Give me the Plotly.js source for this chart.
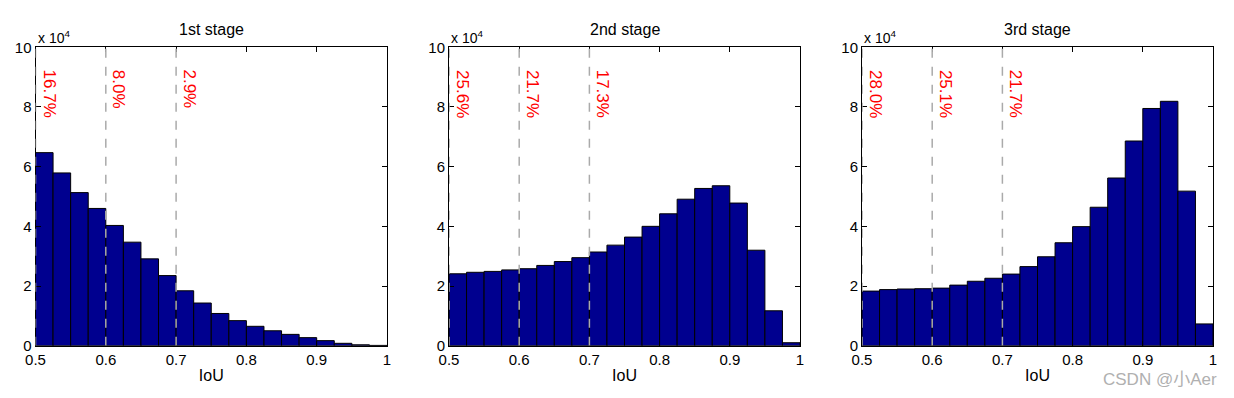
<!DOCTYPE html>
<html>
<head>
<meta charset="utf-8">
<script src="https://cdn.plot.ly/plotly-3.0.1.min.js"></script>
<style>html,body{margin:0;padding:0;background:#fff;}#chart{width:1234px;height:398px;}</style>
</head>
<body>
<div id="chart"></div>
<script>
// Bin centers (IoU), bin width 0.025
const binCenters = [0.5125,0.5375,0.5625,0.5875,0.6125,0.6375,0.6625,0.6875,0.7125,0.7375,
                    0.7625,0.7875,0.8125,0.8375,0.8625,0.8875,0.9125,0.9375,0.9625,0.9875];
const binWidth = 0.025;
// Counts in units of 1e4
const stage1 = [6.47,5.79,5.13,4.60,4.03,3.47,2.91,2.35,1.84,1.43,1.08,0.84,0.65,0.50,0.38,0.27,0.17,0.08,0.03,0.01];
const stage2 = [2.41,2.46,2.49,2.54,2.58,2.69,2.82,2.95,3.14,3.37,3.64,4.00,4.42,4.91,5.27,5.36,4.78,3.20,1.17,0.10];
const stage3 = [1.83,1.88,1.90,1.91,1.93,2.03,2.16,2.26,2.40,2.65,2.98,3.45,3.99,4.64,5.62,6.86,7.95,8.19,5.18,0.73];
const stageTitles = ["1st stage","2nd stage","3rd stage"];
const thresholds = [0.5,0.6,0.7];
const pctLabels = [["16.7%","8.0%","2.9%"],["25.6%","21.7%","17.3%"],["28.0%","25.1%","21.7%"]];
const xTicks = [0.5,0.6,0.7,0.8,0.9,1];
const xTickText = ["0.5","0.6","0.7","0.8","0.9","1"];
const yTicks = [0,2,4,6,8,10];

const series = [stage1,stage2,stage3];
const domains = [[35.5/1234,387/1234],[449/1234,800/1234],[862/1234,1213/1234]];
const yDom = [1-345.7/398, 1-47.3/398];
const font = "Liberation Sans, Arial, Helvetica, sans-serif";

const data = [];
const layout = {
  width:1234, height:398,
  margin:{l:0,r:0,t:0,b:0},
  paper_bgcolor:"#fff", plot_bgcolor:"#fff",
  showlegend:false,
  bargap:0,
  font:{family:font,size:15,color:"#000"},
  shapes:[], annotations:[]
};

series.forEach((vals,i)=>{
  const n = i===0 ? "" : String(i+1);
  data.push({
    type:"bar", x:binCenters, y:vals, width:binWidth,
    xaxis:"x"+n, yaxis:"y"+n,
    marker:{color:"rgb(0,0,143)", line:{color:"#000",width:1}},
    hoverinfo:"x+y"
  });
  layout["xaxis"+n] = {
    domain:domains[i], anchor:"y"+n, range:[0.5,1],
    tickvals:xTicks, ticktext:xTickText, ticks:"inside", ticklen:5, tickcolor:"#000",
    showline:true, linecolor:"#000", linewidth:1, mirror:"ticks",
    showgrid:false, zeroline:false,
    tickfont:{family:font,size:15,color:"#000"},
    title:{text:"IoU", font:{family:font,size:16,color:"#000"}, standoff:3}
  };
  layout["yaxis"+n] = {
    domain:yDom, anchor:"x"+n, range:[0,10],
    tickvals:yTicks, ticks:"inside", ticklen:5, tickcolor:"#000",
    showline:true, linecolor:"#000", linewidth:1, mirror:"ticks",
    showgrid:false, zeroline:false,
    tickfont:{family:font,size:15,color:"#000"}
  };
  thresholds.forEach((t,j)=>{
    layout.shapes.push({type:"line", xref:"x"+n, yref:"y"+n, x0:t, x1:t, y0:0, y1:10,
      line:{color:"#aaaaaa", width:1.5, dash:"dash"}, layer:"above"});
    layout.annotations.push({xref:"x"+n, yref:"y"+n, x:t, y:9.32, xanchor:"left", yanchor:"top",
      xshift:2, textangle:90, showarrow:false, text:pctLabels[i][j],
      font:{family:font,size:17,color:"#ff0000"}});
  });
  layout.annotations.push({xref:"paper", yref:"paper", x:(domains[i][0]+domains[i][1])/2, y:1-29/398,
    xanchor:"center", yanchor:"middle", showarrow:false, text:stageTitles[i],
    font:{family:font,size:16,color:"#000"}});
  layout.annotations.push({xref:"paper", yref:"paper", x:domains[i][0], y:1-37/398,
    xanchor:"left", yanchor:"middle", xshift:0, showarrow:false, text:"x 10<sup>4</sup>",
    font:{family:font,size:14,color:"#000"}});
});
layout.annotations.push({xref:"paper", yref:"paper", x:1219/1234, y:1-379/398,
  xanchor:"right", yanchor:"middle", showarrow:false, text:"CSDN @小Aer",
  font:{family:"Liberation Sans, Noto Sans CJK SC, sans-serif", size:17, color:"#b0b0b0"}});

Plotly.newPlot("chart", data, layout, {displayModeBar:false, staticPlot:true});
</script>
</body>
</html>
